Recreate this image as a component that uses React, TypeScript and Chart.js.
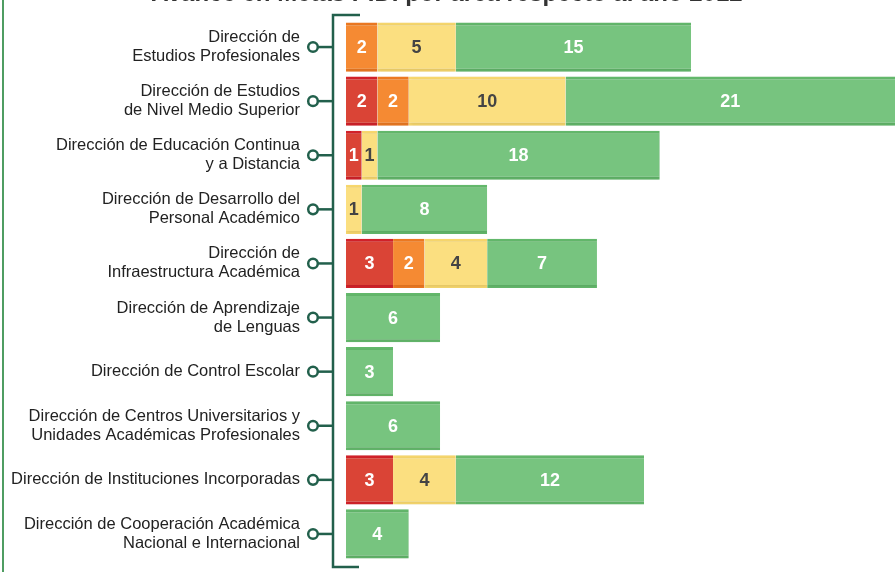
import React, { useEffect, useRef } from "react";
import { Chart, registerables } from "chart.js";

Chart.register(...registerables);

const title = "Avance en Metas PIDI por área respecto al año 2012";

const categories: (string | string[])[] = [
  ["Dirección de", "Estudios Profesionales"],
  ["Dirección de Estudios", "de Nivel Medio Superior"],
  ["Dirección de Educación Continua", "y a Distancia"],
  ["Dirección de Desarrollo del", "Personal Académico"],
  ["Dirección de", "Infraestructura Académica"],
  ["Dirección de Aprendizaje", "de Lenguas"],
  "Dirección de Control Escolar",
  ["Dirección de Centros Universitarios y", "Unidades Académicas Profesionales"],
  "Dirección de Instituciones Incorporadas",
  ["Dirección de Cooperación Académica", "Nacional e Internacional"],
];

const redValues = [null, 2, 1, null, 3, null, null, null, 3, null];
const orangeValues = [2, 2, null, null, 2, null, null, null, null, null];
const yellowValues = [5, 10, 1, 1, 4, null, null, null, 4, null];
const greenValues = [15, 21, 18, 8, 7, 6, 3, 6, 12, 4];

const FONT = "'Liberation Sans', Arial, Helvetica, sans-serif";
const BRACKET = "#22604c";

const decorPlugin = {
  id: "decor",
  beforeDatasetsDraw(chart: any) {
    const ctx = chart.ctx;
    ctx.save();
    ctx.shadowColor = "rgba(0,0,0,0.12)";
    ctx.shadowBlur = 4;
    ctx.shadowOffsetX = 1;
    ctx.shadowOffsetY = 1;
  },
  afterDatasetsDraw(chart: any) {
    chart.ctx.restore();
  },
  afterDraw(chart: any) {
    const ctx = chart.ctx;
    const area = chart.chartArea;
    const yScale = chart.scales.y;
    ctx.save();
    // frame line on the left
    ctx.strokeStyle = "#4f9d62";
    ctx.lineWidth = 2;
    ctx.beginPath();
    ctx.moveTo(3, 0);
    ctx.lineTo(3, chart.height);
    ctx.stroke();

    // title (partially clipped at top)
    ctx.fillStyle = "#333";
    ctx.font = `bold 24px ${FONT}`;
    ctx.textAlign = "center";
    ctx.textBaseline = "alphabetic";
    ctx.fillText(title, 447, 1);

    // bracket
    const bx = area.left - 13;
    ctx.strokeStyle = BRACKET;
    ctx.lineWidth = 2.5;
    ctx.beginPath();
    ctx.moveTo(bx + 27, area.top - 5);
    ctx.lineTo(bx, area.top - 5);
    ctx.lineTo(bx, area.bottom + 6);
    ctx.lineTo(bx + 26, area.bottom + 6);
    ctx.stroke();

    // connectors, circles and category labels
    const labels = chart.data.labels;
    labels.forEach((lab: any, i: number) => {
      const y = yScale.getPixelForValue(i);
      const cx = bx - 20;
      ctx.strokeStyle = BRACKET;
      ctx.beginPath();
      ctx.moveTo(cx + 5, y);
      ctx.lineTo(bx, y);
      ctx.stroke();
      ctx.beginPath();
      ctx.arc(cx, y, 4.8, 0, Math.PI * 2);
      ctx.fillStyle = "#fff";
      ctx.fill();
      ctx.stroke();

      const lines = Array.isArray(lab) ? lab : [lab];
      const lh = 19;
      ctx.fillStyle = "#222";
      ctx.font = `16.5px ${FONT}`;
      ctx.textAlign = "right";
      ctx.textBaseline = "middle";
      lines.forEach((t: string, k: number) => {
        const ly = y + (k - (lines.length - 1) / 2) * lh;
        ctx.fillText(t, cx - 13, ly);
      });
    });

    // value labels
    ctx.font = `bold 18px ${FONT}`;
    ctx.textAlign = "center";
    ctx.textBaseline = "middle";
    chart.data.datasets.forEach((ds: any, di: number) => {
      const meta = chart.getDatasetMeta(di);
      meta.data.forEach((el: any, i: number) => {
        const v = ds.data[i];
        if (v == null) return;
        const props = el.getProps(["x", "y", "base"], true);
        ctx.fillStyle = ds.labelColor;
        ctx.fillText(String(v), (props.x + props.base) / 2, props.y + 1);
      });
    });
    ctx.restore();
  },
};

export default function App() {
  const ref = useRef<HTMLCanvasElement | null>(null);
  useEffect(() => {
    document.body.style.margin = "0";
    if (!ref.current) return;
    const border = { top: 3, bottom: 3, left: 0, right: 0 };
    const chart = new Chart(ref.current, {
      type: "bar",
      data: {
        labels: categories,
        datasets: [
          { label: "Rojo", data: redValues, backgroundColor: "#da4436", borderColor: "#d3222a", borderWidth: border, borderSkipped: false, labelColor: "#fff" } as any,
          { label: "Naranja", data: orangeValues, backgroundColor: "#f58a33", borderColor: "#ee7a22", borderWidth: border, borderSkipped: false, labelColor: "#fff" } as any,
          { label: "Amarillo", data: yellowValues, backgroundColor: "#fbdf80", borderColor: "#f8d86e", borderWidth: border, borderSkipped: false, labelColor: "#444" } as any,
          { label: "Verde", data: greenValues, backgroundColor: "#77c47f", borderColor: "#64b96c", borderWidth: border, borderSkipped: false, labelColor: "#fff" } as any,
        ],
      },
      options: {
        indexAxis: "y",
        animation: false,
        responsive: true,
        maintainAspectRatio: false,
        layout: { padding: { top: 20, bottom: 11, left: 0, right: 0 } },
        datasets: { bar: { barPercentage: 0.91, categoryPercentage: 1 } },
        plugins: { legend: { display: false }, tooltip: { enabled: false }, title: { display: false } },
        scales: {
          x: { stacked: true, min: 0, max: 35, display: false },
          y: {
            stacked: true,
            grid: { display: false, drawTicks: false },
            border: { display: false },
            ticks: { display: false, padding: 0 },
            afterFit(scale: any) {
              scale.width = 346;
            },
          },
        },
      },
      plugins: [decorPlugin],
    });
    return () => chart.destroy();
  }, []);
  return (
    <div style={{ width: 895, height: 572, position: "relative", overflow: "hidden", background: "#fff" }}>
      <canvas ref={ref} />
    </div>
  );
}
